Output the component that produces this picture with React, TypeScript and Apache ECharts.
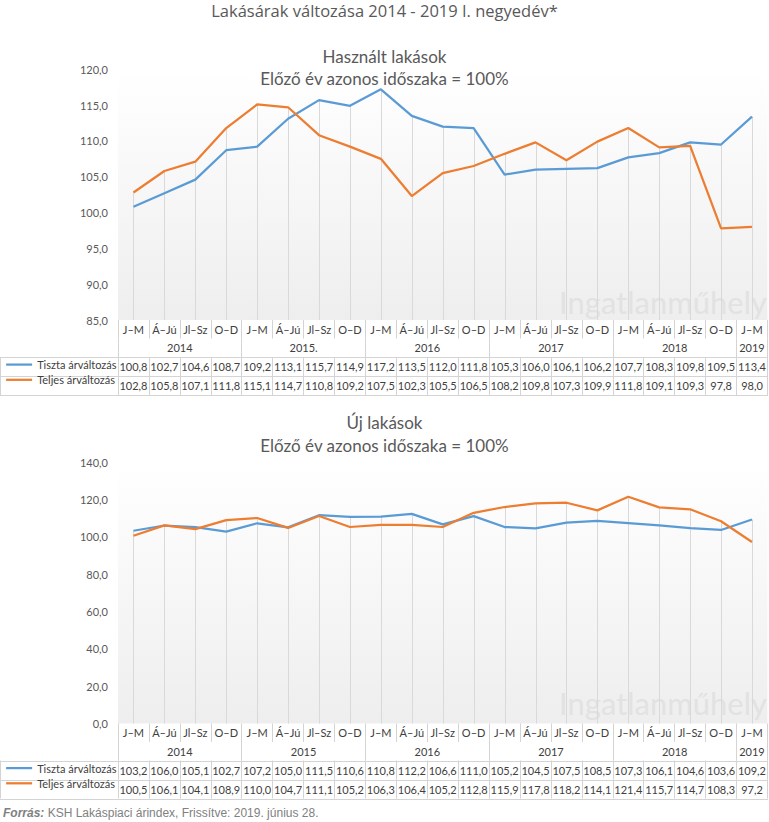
import React, { useEffect, useRef } from 'react';
import * as echarts from 'echarts';

// ---------- data ----------
const quarters = [
  'J–M', 'Á–Jú', 'Jl–Sz', 'O–D',
  'J–M', 'Á–Jú', 'Jl–Sz', 'O–D',
  'J–M', 'Á–Jú', 'Jl–Sz', 'O–D',
  'J–M', 'Á–Jú', 'Jl–Sz', 'O–D',
  'J–M', 'Á–Jú', 'Jl–Sz', 'O–D',
  'J–M',
];
const yearsUsed = ['2014', '2015.', '2016', '2017', '2018', '2019'];
const yearsNew = ['2014', '2015', '2016', '2017', '2018', '2019'];
const quartersPerYear = [4, 4, 4, 4, 4, 1];
const seriesNames = ['Tiszta árváltozás', 'Teljes árváltozás'];

const usedTiszta = [100.8, 102.7, 104.6, 108.7, 109.2, 113.1, 115.7, 114.9, 117.2, 113.5, 112.0, 111.8, 105.3, 106.0, 106.1, 106.2, 107.7, 108.3, 109.8, 109.5, 113.4];
const usedTeljes = [102.8, 105.8, 107.1, 111.8, 115.1, 114.7, 110.8, 109.2, 107.5, 102.3, 105.5, 106.5, 108.2, 109.8, 107.3, 109.9, 111.8, 109.1, 109.3, 97.8, 98.0];
const newTiszta = [103.2, 106.0, 105.1, 102.7, 107.2, 105.0, 111.5, 110.6, 110.8, 112.2, 106.6, 111.0, 105.2, 104.5, 107.5, 108.5, 107.3, 106.1, 104.6, 103.6, 109.2];
const newTeljes = [100.5, 106.1, 104.1, 108.9, 110.0, 104.7, 111.1, 105.2, 106.3, 106.4, 105.2, 112.8, 115.9, 117.8, 118.2, 114.1, 121.4, 115.7, 114.7, 108.3, 97.2];

const mainTitle = 'Lakásárak változása 2014 - 2019 I. negyedév*';
const usedTitle = 'Használt lakások';
const newTitle = 'Új lakások';
const subTitle = 'Előző év azonos időszaka = 100%';
const footerBold = 'Forrás:';
const footerText = ' KSH Lakáspiaci árindex, Frissítve: 2019. június 28.';
const watermark = 'Ingatlanműhely';

// ---------- style ----------
const W = 769;
const H = 822;
const FONT = 'Lato, "Noto Sans", sans-serif';
const TITLE_FONT = '"Open Sans", "Noto Sans", sans-serif';
const TXT = '#595959';
const TBL = '#404040';
const BORDER = '#d4d4d4';
const DROP = '#d9d9d9';
const BLUE = '#5b9bd5';
const ORANGE = '#ed7d31';
const GRID_LEFT = 118;
const GRID_W = 650;
const QH = 18.5;
const YH = 18.5;
const DH = 19;

const fmt = (v: number) => v.toFixed(1).replace('.', ',');

function yearGeometry() {
  const bounds: number[] = [-0.5];
  const centers: number[] = [];
  let s = 0;
  for (const n of quartersPerYear) {
    centers.push(s + (n - 1) / 2);
    s += n;
    bounds.push(s - 0.5);
  }
  return { bounds, centers };
}

function buildPanel(
  gi: number,
  gridTop: number,
  gridBottom: number,
  years: string[],
  tiszta: number[],
  teljes: number[],
  yMin: number,
  yMax: number,
  yInt: number,
  wmBottom: number,
) {
  const n = quarters.length;
  const allBounds = Array.from({ length: n + 1 }, (_, i) => i - 0.5);
  const allCenters = Array.from({ length: n }, (_, i) => i);
  const { bounds, centers } = yearGeometry();
  const base = gi * 4;
  const labelCommon = {
    fontSize: 11,
    color: TBL,
    fontFamily: FONT,
    verticalAlign: 'middle',
  };
  const tickStyle = { color: BORDER, width: 1 };

  const grid = {
    left: GRID_LEFT,
    top: gridTop,
    width: GRID_W,
    height: gridBottom - gridTop,
    show: true,
    borderWidth: 0,
    backgroundColor: {
      type: 'linear', x: 0, y: 0, x2: 0, y2: 1,
      colorStops: [
        { offset: 0, color: '#ffffff' },
        { offset: 1, color: '#eeeeee' },
      ],
    },
  };

  const xAxes: any[] = [
    {
      type: 'category', gridIndex: gi, data: quarters, boundaryGap: true, position: 'bottom',
      axisLine: { show: false },
      axisTick: { show: true, interval: 0, length: QH, lineStyle: tickStyle },
      axisLabel: { ...labelCommon, interval: 0, margin: QH / 2 },
      splitLine: { show: false },
    },
    {
      type: 'value', gridIndex: gi, position: 'bottom', offset: QH, min: -0.5, max: 20.5,
      axisLine: { show: false },
      axisTick: { show: true, customValues: bounds, length: YH, lineStyle: tickStyle },
      axisLabel: {
        ...labelCommon, customValues: centers, margin: YH / 2,
        formatter: (v: number) => {
          const k = centers.findIndex((c) => Math.abs(c - v) < 1e-6);
          return k >= 0 ? years[k] : '';
        },
      },
      splitLine: { show: false },
    },
    ...[tiszta, teljes].map((arr, r) => ({
      type: 'value', gridIndex: gi, position: 'bottom', offset: QH + YH + r * DH, min: -0.5, max: 20.5,
      axisLine: { show: false },
      axisTick: { show: true, customValues: allBounds, length: DH, lineStyle: tickStyle },
      axisLabel: {
        ...labelCommon, customValues: allCenters, margin: DH / 2,
        formatter: (v: number) => {
          const i = Math.round(v);
          return arr[i] !== undefined ? fmt(arr[i]) : '';
        },
      },
      splitLine: { show: false },
    })),
  ];

  const yAxis = {
    type: 'value', gridIndex: gi, min: yMin, max: yMax, interval: yInt,
    axisLine: { show: false }, axisTick: { show: false }, splitLine: { show: false },
    axisLabel: { fontSize: 11, color: TXT, fontFamily: FONT, margin: 10, formatter: (v: number) => fmt(v) },
  };

  const dropData = tiszta.map((v, i) => [i, Math.max(v, teljes[i])]);
  const series: any[] = [
    {
      type: 'custom', xAxisIndex: base, yAxisIndex: gi, z: 1,
      data: dropData, encode: { x: 0, y: 1 }, silent: true,
      renderItem: (params: any, api: any) => {
        const p = api.coord([api.value(0), api.value(1)]);
        const cs = params.coordSys;
        const x = Math.round(p[0]) + 0.5;
        return {
          type: 'line',
          shape: { x1: x, y1: p[1], x2: x, y2: cs.y + cs.height },
          style: { stroke: DROP, lineWidth: 1 },
        };
      },
    },
    {
      name: seriesNames[0], type: 'line', xAxisIndex: base, yAxisIndex: gi, z: 3,
      data: tiszta, symbol: 'none', lineStyle: { color: BLUE, width: 2.25 }, itemStyle: { color: BLUE },
    },
    {
      name: seriesNames[1], type: 'line', xAxisIndex: base, yAxisIndex: gi, z: 4,
      data: teljes, symbol: 'none', lineStyle: { color: ORANGE, width: 2.25 }, itemStyle: { color: ORANGE },
    },
  ];

  const rowTop = gridBottom + QH + YH;
  const legend = {
    left: 5, top: rowTop, orient: 'vertical', padding: 0, itemGap: 0,
    itemWidth: 26, itemHeight: DH, selectedMode: false,
    data: seriesNames,
    itemStyle: { color: 'rgba(0,0,0,0)', borderWidth: 0, opacity: 0 },
    lineStyle: { width: 2.25 },
    textStyle: { fontSize: 11, color: TBL, fontFamily: FONT },
  };

  const right = GRID_LEFT + GRID_W;
  const graphic: any[] = [0, 1, 2].map((r) => ({
    type: 'line', silent: true,
    shape: { x1: 0, y1: Math.round(rowTop + r * DH) + 0.5, x2: right, y2: Math.round(rowTop + r * DH) + 0.5 },
    style: { stroke: BORDER, lineWidth: 1 },
  }));
  graphic.push({
    type: 'line', silent: true,
    shape: { x1: 0.5, y1: rowTop, x2: 0.5, y2: rowTop + 2 * DH },
    style: { stroke: BORDER, lineWidth: 1 },
  });
  graphic.push({
    type: 'text', silent: true, z: 1, x: right - 1, y: wmBottom,
    style: {
      text: watermark, fontSize: 31, fontFamily: FONT, fill: '#e2e2e2',
      align: 'right', verticalAlign: 'bottom',
    },
  });

  return { grid, xAxes, yAxis, series, legend, graphic };
}

export default function App() {
  const ref = useRef<HTMLDivElement>(null);

  useEffect(() => {
    document.body.style.margin = '0';
    if (!ref.current) return;
    const chart = echarts.init(ref.current, undefined, { renderer: 'svg' });

    const p0 = buildPanel(0, 69.3, 320, yearsUsed, usedTiszta, usedTeljes, 85, 120, 5, 317);
    const p1 = buildPanel(1, 462, 723.5, yearsNew, newTiszta, newTeljes, 0, 140, 20, 718);

    const titleStyle = (size: number, family = FONT) => ({
      fontSize: size, fontWeight: 'normal', color: TXT, fontFamily: family, lineHeight: size + 5,
    });

    const option: any = {
      animation: false,
      backgroundColor: '#ffffff',
      title: [
        { text: mainTitle, left: 'center', top: 0, padding: 0, textStyle: titleStyle(16.5, TITLE_FONT) },
        { text: usedTitle, left: 'center', top: 45, padding: 0, textStyle: titleStyle(17) },
        { text: subTitle, left: 'center', top: 67, padding: 0, textStyle: titleStyle(17) },
        { text: newTitle, left: 'center', top: 411, padding: 0, textStyle: titleStyle(17) },
        { text: subTitle, left: 'center', top: 434, padding: 0, textStyle: titleStyle(17) },
      ],
      grid: [p0.grid, p1.grid],
      xAxis: [...p0.xAxes, ...p1.xAxes],
      yAxis: [p0.yAxis, p1.yAxis],
      legend: [p0.legend, p1.legend],
      series: [...p0.series, ...p1.series],
      graphic: [
        ...p0.graphic,
        ...p1.graphic,
        {
          type: 'text', silent: true, x: 3, y: 813,
          style: {
            text: `{b|${footerBold}}${footerText}`,
            fontSize: 12, fontFamily: '"Liberation Sans", Arial, sans-serif', fill: '#808080',
            verticalAlign: 'middle',
            rich: {
              b: {
                fontSize: 12, fontFamily: '"Liberation Sans", Arial, sans-serif', fill: '#808080',
                fontWeight: 'bold', fontStyle: 'italic',
              },
            },
          },
        },
      ],
    };

    chart.setOption(option);
    return () => chart.dispose();
  }, []);

  return <div ref={ref} style={{ width: W, height: H }} />;
}
